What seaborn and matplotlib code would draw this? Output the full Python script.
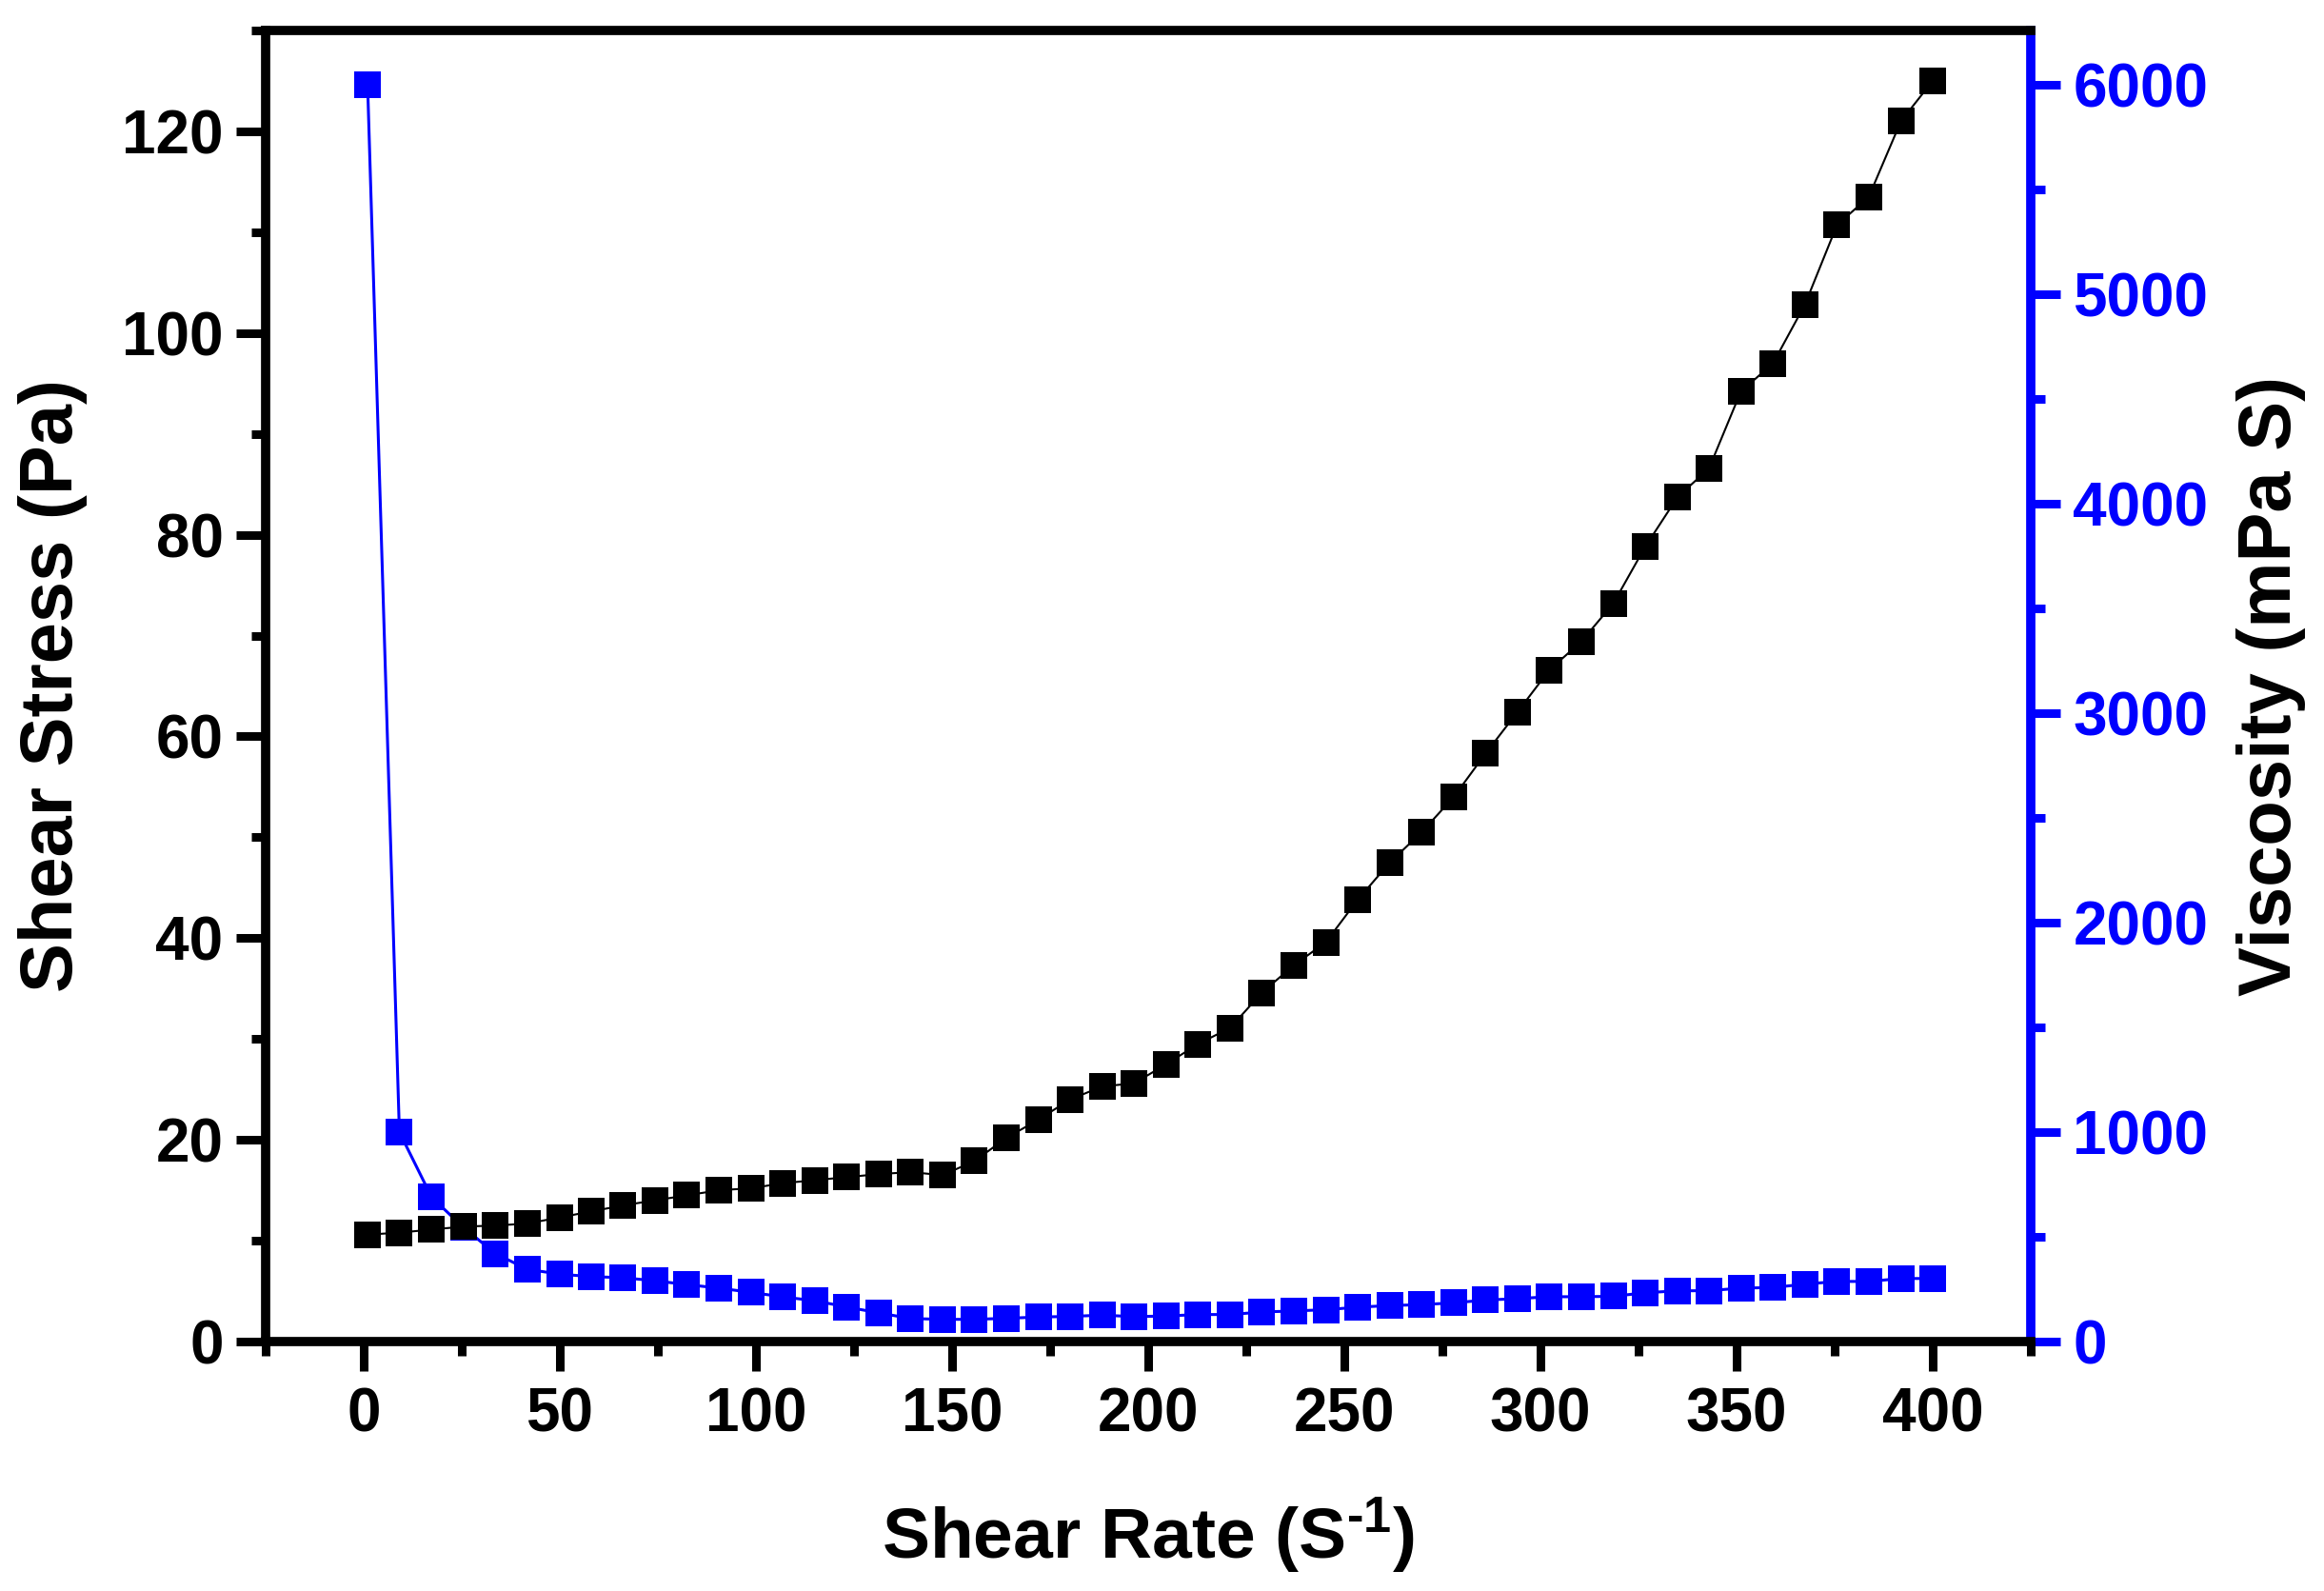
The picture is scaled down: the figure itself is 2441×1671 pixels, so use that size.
import matplotlib
matplotlib.use("Agg")
import matplotlib.pyplot as plt
from matplotlib.ticker import MultipleLocator
import seaborn as sns
import pandas as pd

# ---- data ----
shear_rate = [1.0, 9.1, 17.3, 25.4, 33.6, 41.7, 49.9, 58.0, 66.1, 74.3,
              82.4, 90.6, 98.7, 106.9, 115.0, 123.1, 131.3, 139.4, 147.6, 155.7,
              163.9, 172.0, 180.1, 188.3, 196.4, 204.6, 212.7, 220.9, 229.0, 237.1,
              245.3, 253.4, 261.6, 269.7, 277.9, 286.0, 294.1, 302.3, 310.4, 318.6,
              326.7, 334.9, 343.0, 351.1, 359.3, 367.4, 375.6, 383.7, 391.9, 400.0]
shear_stress = [10.6, 10.8, 11.1, 11.4, 11.5, 11.7, 12.3, 12.9, 13.5, 14.0,
                14.5, 15.0, 15.2, 15.7, 16.0, 16.3, 16.6, 16.8, 16.5, 17.9,
                20.2, 22.0, 24.0, 25.3, 25.6, 27.5, 29.5, 31.1, 34.6, 37.3,
                39.6, 43.8, 47.5, 50.5, 54.0, 58.3, 62.4, 66.6, 69.4, 73.2,
                78.8, 83.7, 86.6, 94.2, 97.0, 102.8, 110.7, 113.5, 121.0, 125.0]
viscosity = [6000, 1000, 690, 545, 420, 345, 322, 310, 305, 290,
             272, 255, 235, 213, 195, 165, 137, 110, 106, 106,
             111, 117, 120, 126, 119, 122, 129, 129, 141, 146,
             152, 164, 172, 176, 185, 198, 205, 214, 214, 216,
             233, 242, 243, 255, 258, 274, 287, 287, 301, 301]

x_label = "Shear Rate (S$^{\u2010 1}$)"
y_label = "Shear Stress (Pa)"
y2_label = "Viscosity (mPa S)"

df = pd.DataFrame({"rate": shear_rate, "stress": shear_stress, "visc": viscosity})

sns.set_style("ticks")
plt.rcParams["font.family"] = ["Liberation Sans", "DejaVu Sans"]
plt.rcParams["font.weight"] = "bold"
plt.rcParams["text.color"] = "black"
plt.rcParams["axes.labelcolor"] = "black"
plt.rcParams["mathtext.fontset"] = "custom"
plt.rcParams["mathtext.rm"] = "Liberation Sans:bold"
plt.rcParams["mathtext.bf"] = "Liberation Sans:bold"
plt.rcParams["mathtext.default"] = "rm"

W, H = 2441, 1671
fig = plt.figure(figsize=(W / 100, H / 100), dpi=100)
L, R, T, B = 279, 2133, 32, 1409
ax = fig.add_axes([L / W, 1 - B / H, (R - L) / W, (B - T) / H])
ax2 = ax.twinx()

blue = "#0000FF"
ms = 19.5

sns.lineplot(data=df, x="rate", y="stress", ax=ax, color="black", linewidth=1.5,
             marker="s", markersize=ms, markeredgewidth=0, errorbar=None,
             zorder=3)
sns.lineplot(data=df, x="rate", y="visc", ax=ax2, color=blue, linewidth=2.2,
             marker="s", markersize=ms, markeredgewidth=0, errorbar=None,
             zorder=3)

ax.set_xlim(-25, 425)
ax.set_ylim(0, 130)
ax2.set_ylim(0, 6260)

ax.xaxis.set_major_locator(MultipleLocator(50))
ax.xaxis.set_minor_locator(MultipleLocator(25))
ax.yaxis.set_major_locator(MultipleLocator(20))
ax.yaxis.set_minor_locator(MultipleLocator(10))
ax2.yaxis.set_major_locator(MultipleLocator(1000))
ax2.yaxis.set_minor_locator(MultipleLocator(500))

lw = 7
for s in ["left", "bottom", "top"]:
    ax.spines[s].set_linewidth(lw)
    ax.spines[s].set_color("black")
ax.spines["right"].set_visible(False)
for s in ["left", "bottom", "top"]:
    ax2.spines[s].set_visible(False)
ax2.spines["right"].set_linewidth(lw)
ax2.spines["right"].set_color(blue)

tick_fs = 46
maj_len, min_len, tw = 22, 11, 6.5
ax.tick_params(axis="both", which="major", direction="out", length=maj_len, width=tw,
               labelsize=tick_fs, colors="black")
ax.tick_params(axis="both", which="minor", direction="out", length=min_len, width=tw,
               colors="black")
ax.tick_params(axis="x", which="major", pad=12)
ax.tick_params(axis="y", which="major", pad=10)
ax.tick_params(axis="x", which="both", top=False)
ax.tick_params(axis="y", which="both", right=False)
ax2.tick_params(axis="y", which="major", direction="out", length=maj_len, width=tw,
                labelsize=tick_fs, colors=blue, pad=10)
ax2.tick_params(axis="y", which="minor", direction="out", length=min_len, width=tw,
                colors=blue)

for lab in ax.get_xticklabels() + ax.get_yticklabels() + ax2.get_yticklabels():
    lab.set_fontweight("bold")

ax.set_xlabel(x_label, fontsize=54, fontweight="bold", color="black")
ax.set_ylabel(y_label, fontsize=56, fontweight="bold", color="black")
ax2.set_ylabel(y2_label, fontsize=56, fontweight="bold", color="black",
               rotation=90)

aw, ah = R - L, B - T
ax.xaxis.label.set_va("center")
ax.xaxis.set_label_coords(0.5, (B - 1613) / ah)
ax.yaxis.label.set_va("center")
ax.yaxis.set_label_coords((56 - L) / aw, 0.5)
ax2.yaxis.label.set_va("center")
ax2.yaxis.set_label_coords((2385 - L) / aw, 0.5)

ax.set_zorder(ax2.get_zorder() + 1)
ax.patch.set_visible(False)

fig.savefig("out.png", dpi=100)
